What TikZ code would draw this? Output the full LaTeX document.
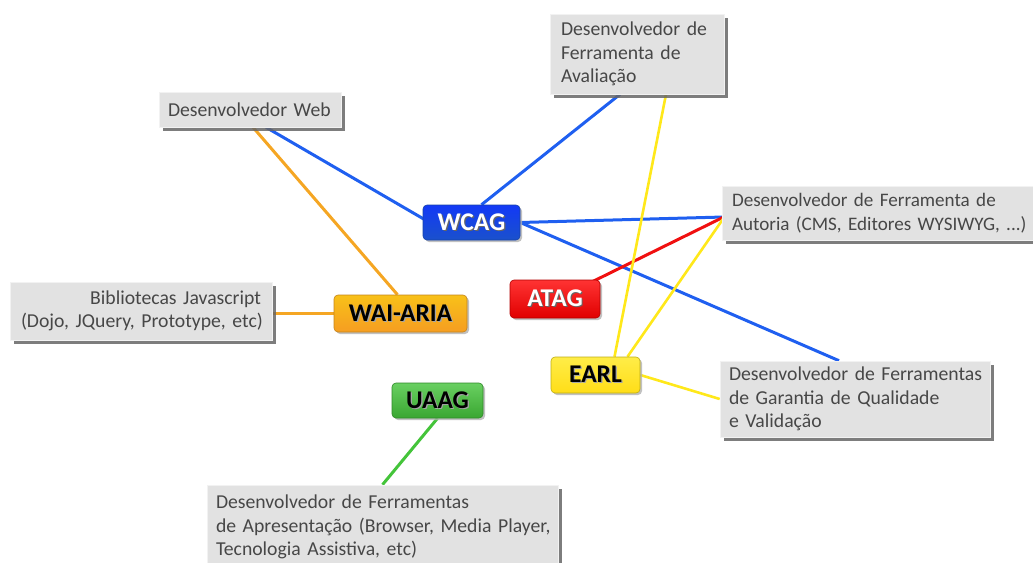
\documentclass[tikz,border=0pt]{standalone}
\usepackage{fontspec}
\setmainfont{Carlito}
\usetikzlibrary{calc,shadows,backgrounds}

\definecolor{boxgray}{HTML}{E2E2E2}
\definecolor{boxedge}{HTML}{F2F2F2}
\definecolor{txtgray}{HTML}{474747}
\definecolor{lblue}{HTML}{1F5FF0}
\definecolor{lorange}{HTML}{F5A623}
\definecolor{lred}{HTML}{F01010}
\definecolor{lyellow}{HTML}{FFE81A}
\definecolor{lgreen}{HTML}{44C43A}

% label text with a soft offset shadow
\newcommand\tagtext[3]{\makebox[0pt][l]{\kern1.2pt\raisebox{-1.2pt}{\textcolor{#2}{#3}}}\textcolor{#1}{#3}}

\tikzset{
  infobox/.style={draw=boxedge, line width=0.6pt, fill=boxgray, text=txtgray,
    font=\fontsize{19.7}{23.5}\selectfont, inner sep=0pt, align=left,
    drop shadow={shadow xshift=4pt, shadow yshift=-4pt, fill=black!60, opacity=0.85}},
  tag/.style={rounded corners=4pt, inner sep=0pt, line width=0.6pt,
    font=\fontsize{25.5}{28}\selectfont\bfseries,
    drop shadow={shadow xshift=2pt, shadow yshift=-2pt, fill=black!30, opacity=0.8}},
  tagblue/.style={tag, top color=blue!40!lblue, bottom color=lblue!85!black, draw=lblue!70!black},
  tagorange/.style={tag, top color=lorange!70!yellow, bottom color=lorange!95!red, draw=lorange!80!black},
  tagred/.style={tag, top color=red!80!white, bottom color=red!88!black, draw=red!70!black},
  tagyellow/.style={tag, top color=lyellow!80!white, bottom color=lyellow!90!orange, draw=lyellow!75!black},
  taggreen/.style={tag, top color=lgreen!80!white, bottom color=lgreen!85!black, draw=lgreen!70!black},
  link/.style={line width=3pt},
}

\begin{document}
\begin{tikzpicture}[x=1pt,y=-1pt]
\useasboundingbox (0,0) rectangle (1033,562);

% audience boxes
\node[infobox, minimum width=174pt, minimum height=80pt, text width=152pt] (aval) at (637,54)
  {\mbox{Desenvolvedor de}\\\mbox{Ferramenta de}\\\mbox{Avaliação}};
\node[infobox, minimum width=182pt, minimum height=35pt, text width=164pt] (web) at (250,109.5)
  {\mbox{Desenvolvedor Web}};
\node[infobox, font=\fontsize{19.1}{23.5}\selectfont, minimum width=320pt, minimum height=54pt, text width=300pt] (autoria) at (882,213)
  {\mbox{Desenvolvedor de Ferramenta de}\\\mbox{Autoria (CMS, Editores WYSIWYG, ...)}};
\node[infobox, align=right, minimum width=262pt, minimum height=58pt, text width=240pt] (biblio) at (141,311)
  {\mbox{Bibliotecas Javascript}\\\mbox{(Dojo, JQuery, Prototype, etc)}};
\node[infobox, minimum width=270pt, minimum height=76pt, text width=252pt] (garantia) at (855,399)
  {\mbox{Desenvolvedor de Ferramentas}\\\mbox{de Garantia de Qualidade}\\\mbox{e Validação}};
\node[infobox, minimum width=351pt, minimum height=84pt, text width=333pt] (apres) at (382.5,527)
  {\mbox{Desenvolvedor de Ferramentas}\\\mbox{de Apresentação (Browser, Media Player,}\\\mbox{Tecnologia Assistiva, etc)}};

% guideline tags
\node[tagblue, minimum width=97pt, minimum height=35pt] (wcag) at (471.5,222.5)
  {\tagtext{white}{black!60}{WCAG}};
\node[tagorange, minimum width=133pt, minimum height=37pt] (wai) at (400.5,313.5)
  {\tagtext{black}{black!35}{WAI-ARIA}};
\node[tagred, minimum width=90pt, minimum height=38pt] (atag) at (555,299)
  {\tagtext{white}{black!60}{ATAG}};
\node[tagyellow, minimum width=89pt, minimum height=36pt] (earl) at (595.5,375)
  {\tagtext{black}{black!35}{EARL}};
\node[taggreen, minimum width=91pt, minimum height=35pt] (uaag) at (437.5,400.5)
  {\tagtext{black}{black!35}{UAAG}};

% connectors
\begin{scope}[on background layer]
  \draw[link, lblue] ($(wcag.west)+(7,0)$) -- ($(web.south)+(16,0)$);
  \draw[link, lblue] ($(wcag.north)+(10,0)$) -- ($(aval.south)+(-17,0)$);
  \draw[link, lblue] (wcag.east) -- ($(autoria.west)+(2,4)$);
  \draw[link, lblue] (wcag.east) -- ($(garantia.north)+(-16,0)$);
  \draw[link, lorange] ($(wai.north)+(-3,0)$) -- ($(web.south)+(3,0)$);
  \draw[link, lorange] (wai.west) -- (biblio.east |- wai.west);
  \draw[link, lred] ($(atag.north east)+(-8,2)$) -- ($(autoria.west)+(2,4)$);
  \draw[link, lyellow, line width=2.6pt] ($(earl.north)+(19,0)$) -- ($(aval.south)+(29,0)$);
  \draw[link, lyellow, line width=2.6pt] ($(earl.north)+(32,0)$) -- ($(autoria.west)+(2,5)$);
  \draw[link, lyellow, line width=2.6pt] (earl.east) -- (garantia.west);
  \draw[link, lgreen] (uaag.south) -- (apres.north);
\end{scope}
\end{tikzpicture}
\end{document}
